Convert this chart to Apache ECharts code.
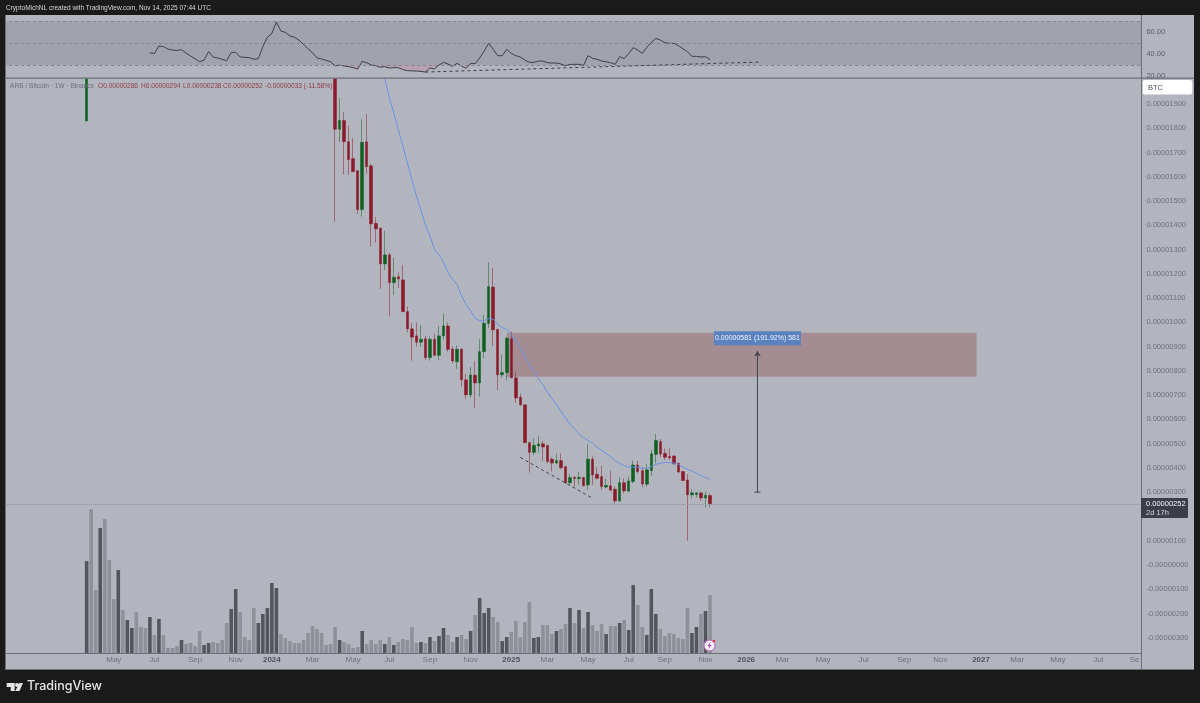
<!DOCTYPE html>
<html>
<head>
<meta charset="utf-8">
<title>ARB / Bitcoin 1W</title>
<script src="https://cdn.jsdelivr.net/npm/echarts@6/dist/echarts.min.js"></script>
<style>
    html, body { margin: 0; padding: 0; background: #1a1a1a; }
    #chart { width: 1200px; height: 703px; }
</style>
</head>
<body>
<div id="chart"></div>
<script>
// weekly slots, first traded candle is the 19th slot (2023-03-20)
const firstWeek = '2022-11-14';
const weekCount = 252;
const leadingWeeks = 18;

const monthTicks = [
    ['2023-05-01', 'May'], ['2023-07-03', 'Jul'], ['2023-09-04', 'Sep'], ['2023-11-06', 'Nov'],
    ['2024-01-01', '2024'], ['2024-03-04', 'Mar'], ['2024-05-06', 'May'], ['2024-07-01', 'Jul'],
    ['2024-09-02', 'Sep'], ['2024-11-04', 'Nov'], ['2025-01-06', '2025'], ['2025-03-03', 'Mar'],
    ['2025-05-05', 'May'], ['2025-07-07', 'Jul'], ['2025-09-01', 'Sep'], ['2025-11-03', 'Nov'],
    ['2026-01-05', '2026'], ['2026-03-02', 'Mar'], ['2026-05-04', 'May'], ['2026-07-06', 'Jul'],
    ['2026-09-07', 'Sep'], ['2026-11-02', 'Nov'], ['2027-01-04', '2027'], ['2027-03-01', 'Mar'],
    ['2027-05-03', 'May'], ['2027-07-05', 'Jul'], ['2027-08-30', 'Se']
];

// price ticks in satoshi (0.00000001 BTC). 200 sits under the last price tag
const priceTicks = [1900, 1800, 1700, 1600, 1500, 1400, 1300, 1200, 1100, 1000, 900, 800, 700, 600, 500, 400, 300, 100, 0, -100, -200, -300];
const rsiTicks = [20, 40, 60];

// open, close, low, high in satoshi, cut at the pane top (2003) where the candle leaves the pane
const candleFirst = [[1830, 2003, 1830, 2003]];
// candles 1 to 54 are above the visible range, nothing to read there
const candlesOffScale = 54;
const candleRest = [
    [2003, 1796, 1414, 2003], [1796, 1832, 1745, 1925], [1832, 1745, 1610, 1866], [1744, 1671, 1608, 1810],
    [1675, 1621, 1621, 1759], [1625, 1465, 1447, 1625], [1465, 1742, 1436, 1837], [1744, 1642, 1612, 1858],
    [1645, 1406, 1312, 1652], [1408, 1385, 1329, 1433], [1388, 1241, 1138, 1390], [1241, 1278, 1216, 1377],
    [1278, 1164, 1024, 1286], [1164, 1186, 1113, 1265], [1188, 1179, 1142, 1206], [1175, 1044, 1043, 1237],
    [1044, 973, 958, 1065], [973, 939, 842, 997], [944, 918, 900, 1000], [918, 930, 898, 989],
    [932, 855, 845, 945], [855, 930, 842, 941], [930, 864, 861, 952], [864, 944, 845, 985],
    [944, 985, 927, 1035], [985, 889, 879, 999], [890, 841, 831, 900], [838, 889, 808, 904],
    [889, 763, 735, 893], [763, 701, 683, 787], [701, 783, 690, 817], [782, 750, 648, 841],
    [750, 879, 694, 930], [879, 996, 853, 1030], [996, 1147, 977, 1247], [1145, 969, 903, 1224],
    [971, 784, 721, 971], [784, 793, 772, 868], [793, 934, 760, 940], [932, 771, 771, 962],
    [771, 688, 669, 798], [691, 660, 657, 705], [660, 504, 504, 660], [504, 464, 381, 508],
    [464, 493, 453, 522], [490, 499, 463, 532], [499, 486, 430, 511], [493, 426, 419, 493],
    [436, 420, 385, 444], [420, 430, 416, 458], [430, 401, 394, 460], [405, 339, 334, 408],
    [339, 360, 330, 375], [361, 356, 323, 367], [356, 361, 330, 385], [360, 327, 323, 364],
    [330, 436, 309, 499], [436, 371, 330, 447], [374, 357, 353, 403], [364, 323, 309, 408],
    [321, 328, 316, 356], [326, 308, 306, 389], [312, 264, 253, 323], [264, 339, 261, 361],
    [339, 305, 295, 357], [304, 346, 302, 364], [344, 412, 337, 430], [412, 385, 378, 430],
    [388, 334, 320, 403], [333, 392, 323, 415], [389, 458, 367, 474], [456, 513, 419, 540],
    [508, 458, 444, 519], [460, 444, 433, 480], [447, 441, 433, 481], [449, 416, 415, 453],
    [418, 383, 378, 422], [385, 348, 346, 387], [350, 289, 100, 374], [289, 297, 275, 313],
    [290, 297, 278, 300], [297, 276, 264, 302], [276, 287, 238, 302], [286, 252, 238, 294]
];

// blue moving average, from candle 66 on (before that it is off the pane)
const maStart = 66;
const maValues = [
    2005, 1928, 1862, 1793, 1727, 1658, 1587, 1521, 1463, 1401, 1356, 1300,
    1278, 1248, 1205, 1178, 1156, 1109, 1074, 1047, 1017, 1006, 1007, 1015, 1013, 992, 978, 971, 949, 925, 897, 861, 824, 797, 768,
    743, 713, 686, 661, 632, 607, 580, 561, 539, 525, 513, 502, 484, 473, 460, 447, 430, 418, 409, 403, 404, 403, 398, 398, 405,
    415, 419, 422, 423, 420, 414, 404, 394, 387, 378, 368, 360, 353
];

const volumeValues = [
    92, 144, 63, 125, 134, 93, 54, 83, 43, 33, 25, 41, 26, 25, 36, 18, 34, 18, 5, 5,
    7, 13, 9, 10, 7, 22, 8, 10, 11, 10, 13, 30, 44, 64, 41, 16, 13, 45, 30, 39,
    45, 70, 65, 19, 15, 12, 10, 10, 13, 20, 27, 24, 20, 8, 9, 26, 13, 11, 9, 5,
    6, 22, 9, 13, 9, 13, 9, 16, 8, 11, 14, 13, 26, 10, 11, 10, 16, 12, 17, 25,
    18, 11, 16, 18, 14, 22, 38, 55, 40, 45, 36, 31, 12, 16, 21, 32, 16, 31, 51, 15,
    16, 28, 28, 19, 22, 24, 29, 45, 30, 43, 25, 41, 28, 22, 29, 19, 27, 27, 30, 33,
    23, 68, 48, 26, 18, 64, 39, 24, 17, 20, 19, 15, 14, 45, 20, 26, 39, 42, 58
];
// 1 = dark bar (up week), 0 = light bar (down week)
const volumeUp = [
    1, 0, 0, 1, 0, 0, 0, 1, 0, 1, 1, 0, 0, 0, 1, 0, 1, 0, 0, 0,
    0, 1, 0, 0, 0, 0, 1, 1, 0, 0, 0, 0, 1, 1, 0, 0, 0, 0, 1, 1,
    1, 1, 1, 0, 0, 0, 0, 0, 0, 0, 0, 0, 0, 0, 0, 0, 1, 0, 0, 0,
    0, 1, 0, 0, 0, 0, 1, 0, 1, 0, 0, 0, 0, 0, 1, 0, 1, 0, 1, 1,
    0, 0, 1, 0, 0, 1, 0, 1, 1, 1, 0, 0, 1, 1, 0, 0, 0, 0, 0, 1,
    1, 0, 0, 0, 1, 0, 0, 1, 0, 1, 0, 1, 0, 0, 0, 1, 0, 0, 1, 0,
    1, 1, 0, 0, 1, 1, 1, 0, 0, 0, 0, 0, 0, 0, 1, 1, 0, 1, 0
];

// RSI, starts at candle 14
const rsiStart = 14;
const rsiValues = [
    40.9, 40.6, 47.3, 46.7, 44.5, 43.6, 43.3, 43.9, 40.9, 38.2, 35.8, 33, 34.5, 42.1, 37.3, 36.4, 35.2, 33.9, 41.5, 41.5,
    37.3, 37, 36.7, 35.2, 35.8, 46.7, 55.2, 58.8, 69.1, 60.9, 59.7, 56.4, 55.2, 52.7, 48.8, 44.8, 41.2, 36.4, 35.5, 34.2,
    33, 29.1, 30, 29.1, 28.5, 27.6, 26.4, 33.3, 32.1, 30, 29.4, 27.9, 28.5, 27.3, 27.6, 27.6, 25.8, 24.8, 24.7, 24.5,
    24.2, 23.6, 27.3, 26.4, 30, 32.4, 30.9, 28.8, 31.5, 29.1, 27, 31.5, 31.2, 36.4, 42.7, 49.7, 44.2, 38.5, 38.5, 44.2,
    40.6, 38.5, 37.3, 34.5, 32.4, 32.4, 33.6, 33.6, 32.1, 31.8, 31.8, 30.9, 29.4, 30.6, 30.6, 30.6, 29.7, 38.5, 36.1, 35.2,
    33.6, 33, 32.1, 30.6, 37.6, 35.8, 40.6, 45.8, 43.6, 40.6, 46.1, 50.6, 54.2, 52.7, 50.3, 49.7, 49.7, 47.6, 44.8, 42.1,
    37.9, 37.9, 37.3, 37.6, 34.8
];
const rsiLevels = [70, 50, 30];

// drawings, x in candle numbers, y in satoshi or RSI
const rsiTrend = [[75, 23.6], [149, 32.7]];
const priceTrend = [[96, 443], [112, 275]];
const resistanceZone = { fromCandle: 93, toCandle: 197, low: 776, high: 957 };
const measureCandle = 148.5;
const measureRange = [300, 881];
const measureTagPrice = 934;
const lastPrice = 252;

const legendParts = [
    ['ARB / Bitcoin · 1W · Binance', 10, '#6d707c'],
    ['O0.00000286', 98, '#8d3a48'],
    ['H0.00000294', 141, '#8d3a48'],
    ['L0.00000238', 183, '#8d3a48'],
    ['C0.00000252', 223, '#8d3a48'],
    ['-0.00000033 (-11.58%)', 265, '#8d3a48']
];

const upColor = '#0f5f20';
const downColor = '#8a1a2a';
const upWick = 'rgba(15,95,32,0.5)';
const downWick = 'rgba(138,26,42,0.5)';
const panelColor = '#b2b5be';
const lineColor = '#6b6e7b';
const font = '"Liberation Sans", Arial, sans-serif';

const categories = [];
for (let i = 0; i < weekCount; i++) {
    const d = new Date(firstWeek + 'T00:00:00Z');
    d.setUTCDate(d.getUTCDate() + i * 7);
    categories.push(d.toISOString().slice(0, 10));
}
const tickByDate = {};
monthTicks.forEach(t => { tickByDate[t[0]] = t[1]; });

function pad (values, start) {
    return new Array(leadingWeeks + start).fill('-').concat(values);
}
function week (candle) {
    return categories[leadingWeeks + candle];
}

const emptyCandle = ['-', '-', '-', '-'];
const candles = new Array(leadingWeeks).fill(emptyCandle)
    .concat(candleFirst, new Array(candlesOffScale).fill(emptyCandle), candleRest);
const bodies = candles.map(c => c[0] === '-' ? c : [c[0], c[1], Math.min(c[0], c[1]), Math.max(c[0], c[1])]);
const volumes = pad(volumeValues.map((v, i) => ({
    value: v,
    itemStyle: { color: volumeUp[i] ? '#55565c' : '#8f9199' }
})), 0);

const gridLeft = 3.1;
const gridWidth = 1138.3;

const chart = echarts.init(document.getElementById('chart'), null, { renderer: 'canvas' });

const option = {
    animation: false,
    backgroundColor: '#1a1a1a',
    textStyle: { fontFamily: font },
    grid: [
        { left: gridLeft, width: gridWidth, top: 79, height: 574 },
        { left: gridLeft, width: gridWidth, top: 15, height: 62 }
    ],
    xAxis: [
        {
            type: 'category',
            gridIndex: 0,
            data: categories,
            axisLine: { show: false },
            axisTick: { show: false },
            splitLine: { show: false },
            axisLabel: {
                margin: 3,
                fontSize: 8,
                color: '#6d707c',
                hideOverlap: false,
                interval: (idx, value) => tickByDate[value] !== undefined,
                formatter: value => {
                    const t = tickByDate[value] || '';
                    return /^\d+$/.test(t) ? '{year|' + t + '}' : t;
                },
                rich: { year: { fontSize: 8, fontWeight: 'bold', color: '#4f525e' } }
            }
        },
        {
            type: 'category',
            gridIndex: 1,
            data: categories,
            axisLine: { show: false },
            axisTick: { show: false },
            axisLabel: { show: false },
            splitLine: { show: false }
        },
        {
            // same span as the weekly slots, so drawings can sit between candles
            type: 'value',
            gridIndex: 0,
            min: -leadingWeeks - 0.5,
            max: weekCount - leadingWeeks - 0.5,
            show: false
        }
    ],
    yAxis: [
        {
            type: 'value',
            gridIndex: 0,
            position: 'right',
            min: -363,
            max: 2003,
            axisLine: { show: false },
            splitLine: { show: false },
            axisTick: { show: false, customValues: priceTicks },
            axisLabel: {
                customValues: priceTicks,
                margin: 5,
                fontSize: 7.5,
                color: '#6d707c',
                formatter: v => (v <= 0 ? '-' : '') + (Math.abs(v) / 1e8).toFixed(8)
            }
        },
        {
            type: 'value',
            gridIndex: 0,
            min: 0,
            max: 574,
            show: false
        },
        {
            type: 'value',
            gridIndex: 1,
            position: 'right',
            min: 19.1,
            max: 75.5,
            axisLine: { show: false },
            splitLine: { show: false },
            axisTick: { show: false, customValues: rsiTicks },
            axisLabel: {
                customValues: rsiTicks,
                margin: 5,
                fontSize: 7.5,
                color: '#5d606c',
                formatter: v => v.toFixed(2)
            }
        }
    ],
    series: [
        {
            name: 'Volume',
            type: 'bar',
            xAxisIndex: 0,
            yAxisIndex: 1,
            barWidth: 3.6,
            data: volumes,
            z: 1
        },
        {
            name: 'Wicks',
            type: 'candlestick',
            xAxisIndex: 0,
            yAxisIndex: 0,
            barWidth: 1,
            data: candles,
            itemStyle: {
                color: upWick,
                color0: downWick,
                borderColor: upWick,
                borderColor0: downWick,
                borderWidth: 1
            },
            z: 3
        },
        {
            name: 'Candles',
            type: 'candlestick',
            xAxisIndex: 0,
            yAxisIndex: 0,
            barWidth: 3,
            data: bodies,
            itemStyle: {
                color: upColor,
                color0: downColor,
                borderColor: upColor,
                borderColor0: downColor,
                borderWidth: 0.5
            },
            markArea: {
                silent: true,
                itemStyle: { color: 'rgba(131,48,50,0.3)' },
                data: [[
                    { xAxis: week(resistanceZone.fromCandle), yAxis: resistanceZone.high },
                    { xAxis: week(resistanceZone.toCandle), yAxis: resistanceZone.low }
                ]]
            },
            markLine: {
                silent: true,
                symbol: 'none',
                label: { show: false },
                lineStyle: { color: '#8f929c', width: 1, type: 'dotted' },
                data: [{ yAxis: lastPrice }]
            },
            z: 4
        },
        {
            name: 'MA',
            type: 'line',
            xAxisIndex: 0,
            yAxisIndex: 0,
            data: pad(maValues, maStart),
            showSymbol: false,
            lineStyle: { color: '#6a90e6', width: 1 },
            z: 5
        },
        {
            name: 'Trend',
            type: 'line',
            xAxisIndex: 0,
            yAxisIndex: 0,
            data: priceTrend.map(p => [week(p[0]), p[1]]),
            showSymbol: false,
            lineStyle: { color: '#3c3e46', width: 1, type: [3, 3] },
            z: 5
        },
        {
            name: 'Measure',
            type: 'line',
            xAxisIndex: 2,
            yAxisIndex: 0,
            showAllSymbol: true,
            data: [
                { value: [measureCandle, measureRange[0]], symbol: 'rect', symbolSize: [6, 1] },
                { value: [measureCandle, measureRange[1]], symbol: 'arrow', symbolSize: 5 }
            ],
            itemStyle: { color: '#3f424c' },
            lineStyle: { color: '#3f424c', width: 1 },
            markPoint: {
                silent: true,
                data: [{
                    coord: [measureCandle, measureTagPrice],
                    symbol: 'rect',
                    symbolSize: [87, 14],
                    itemStyle: { color: '#5a82c0' },
                    label: {
                        show: true,
                        position: 'inside',
                        formatter: '0.00000581 (191.92%) 581',
                        color: '#f2f5fb',
                        fontSize: 7
                    }
                }]
            },
            z: 6
        },
        {
            name: 'RSI oversold',
            type: 'line',
            xAxisIndex: 1,
            yAxisIndex: 2,
            data: pad(rsiValues.map(v => Math.min(v, 30)), rsiStart),
            showSymbol: false,
            lineStyle: { width: 0 },
            areaStyle: { origin: 30, color: 'rgba(196,110,130,0.4)' },
            z: 3
        },
        {
            name: 'RSI',
            type: 'line',
            xAxisIndex: 1,
            yAxisIndex: 2,
            data: pad(rsiValues, rsiStart),
            showSymbol: false,
            lineStyle: { color: '#3e4048', width: 1 },
            markArea: {
                silent: true,
                itemStyle: { color: 'rgba(120,122,128,0.3)' },
                data: [[{ yAxis: rsiLevels[2] }, { yAxis: rsiLevels[0] }]]
            },
            markLine: {
                silent: true,
                symbol: 'none',
                label: { show: false },
                lineStyle: { color: '#83858e', width: 1, type: [3, 3] },
                data: rsiLevels.map(v => ({ yAxis: v }))
            },
            z: 4
        },
        {
            name: 'RSI trend',
            type: 'line',
            xAxisIndex: 1,
            yAxisIndex: 2,
            data: rsiTrend.map(p => [week(p[0]), p[1]]),
            showSymbol: false,
            lineStyle: { color: '#3c3e46', width: 1, type: [3, 3] },
            z: 5
        }
    ],
    graphic: {
        elements: [
            { type: 'rect', z: -10, shape: { x: 5, y: 15, width: 1189, height: 655 }, style: { fill: panelColor } },
            { type: 'rect', z: 90, shape: { x: 0, y: 0, width: 5, height: 703 }, style: { fill: '#1a1a1a' } },
            { type: 'rect', z: 91, shape: { x: 5, y: 15, width: 1, height: 655 }, style: { fill: lineColor } },
            { type: 'rect', z: 91, shape: { x: 5, y: 77.5, width: 1189, height: 1.2 }, style: { fill: lineColor } },
            { type: 'rect', z: 91, shape: { x: 5, y: 653, width: 1136, height: 1 }, style: { fill: lineColor } },
            { type: 'rect', z: 91, shape: { x: 5, y: 669, width: 1189, height: 1 }, style: { fill: lineColor } },
            { type: 'rect', z: 91, shape: { x: 1141, y: 15, width: 1, height: 655 }, style: { fill: lineColor } },
            { type: 'rect', z: 91, shape: { x: 1142.7, y: 80, width: 49.6, height: 14.5, r: 2 }, style: { fill: '#ffffff' } },
            { type: 'text', z: 92, x: 1148, y: 87.5, style: { text: 'BTC', font: '7.5px ' + font, fill: '#4c4f5a', textVerticalAlign: 'middle' } },
            { type: 'rect', z: 91, shape: { x: 1141, y: 498, width: 47, height: 20, r: 1 }, style: { fill: '#3b3e4a' } },
            { type: 'text', z: 92, x: 1146, y: 504, style: { text: '0.00000252', font: '7.5px ' + font, fill: '#f4f5f7', textVerticalAlign: 'middle' } },
            { type: 'text', z: 92, x: 1146, y: 513, style: { text: '2d 17h', font: '7.5px ' + font, fill: '#d6d8de', textVerticalAlign: 'middle' } },
            { type: 'text', z: 92, x: 6, y: 8, style: { text: 'CryptoMichNL created with TradingView.com, Nov 14, 2025 07:44 UTC', font: '6.5px ' + font, fill: '#d8d8d8', textVerticalAlign: 'middle' } },
            { type: 'text', z: 92, x: 27, y: 686.5, style: { text: 'TradingView', font: '500 12.5px Inter, ' + font, fill: '#e4e4e4', textVerticalAlign: 'middle' } },
            { type: 'polygon', z: 92, shape: { points: [[6.7, 683], [14.7, 683], [14.7, 691], [10.7, 691], [10.7, 687], [6.7, 687]] }, style: { fill: '#e4e4e4' } },
            { type: 'circle', z: 92, shape: { cx: 17, cy: 685, r: 2 }, style: { fill: '#e4e4e4' } },
            { type: 'polygon', z: 92, shape: { points: [[19.5, 683], [23, 683], [19.5, 691], [15.2, 691]] }, style: { fill: '#e4e4e4' } },
            // small promo badge next to the last bar
            { type: 'circle', z: 92, shape: { cx: 709.5, cy: 645.5, r: 5.5 }, style: { fill: '#f4eef6', stroke: '#b257c4', lineWidth: 1 } },
            { type: 'polygon', z: 93, shape: { points: [[710.5, 642], [707.5, 646], [709.3, 646], [708.5, 649], [711.5, 645], [709.7, 645]] }, style: { fill: '#9c3cb4' } },
            { type: 'circle', z: 93, shape: { cx: 714, cy: 641, r: 1.3 }, style: { fill: '#e8323c' } }
        ].concat(legendParts.map(p => ({
            type: 'text',
            z: 92,
            x: p[1],
            y: 86.5,
            style: { text: p[0], font: '6.6px ' + font, fill: p[2], textVerticalAlign: 'middle' }
        })))
    }
};

chart.setOption(option);
</script>
</body>
</html>
